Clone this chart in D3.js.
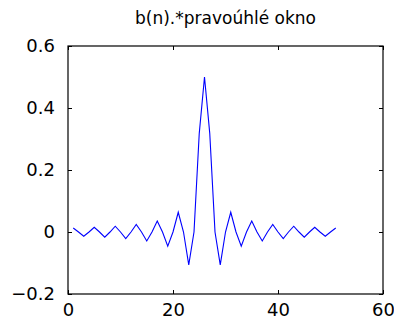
<!DOCTYPE html>
<html>
<head>
<meta charset="utf-8">
<script src="https://cdn.jsdelivr.net/npm/d3@7"></script>
<style>
html,body{margin:0;padding:0;background:#fff;}
svg{display:block;}
text{font-family:"DejaVu Sans",sans-serif;fill:#000;}
</style>
</head>
<body>
<svg id="chart" width="394" height="323"></svg>
<script>
const title = "b(n).*pravoúhlé okno";
const n = d3.range(1, 52);
const values = [
  0.0127, 0, -0.0138, 0, 0.0152, 0, -0.0168, 0, 0.0187, 0,
  -0.0212, 0, 0.0245, 0, -0.0289, 0, 0.0354, 0, -0.0455, 0,
  0.0637, 0, -0.1061, 0, 0.3183, 0.5, 0.3183, 0, -0.1061, 0,
  0.0637, 0, -0.0455, 0, 0.0354, 0, -0.0289, 0, 0.0245, 0,
  -0.0212, 0, 0.0187, 0, -0.0168, 0, 0.0152, 0, -0.0138, 0, 0.0127
];
const xTicks = [0, 20, 40, 60];
const yTicks = [-0.2, 0, 0.2, 0.4, 0.6];
const xDomain = [0, 60];
const yDomain = [-0.2, 0.6];

const W = 394, H = 323;
const m = {left: 68, right: 11, top: 46, bottom: 29};
const svg = d3.select("#chart");
const x = d3.scaleLinear().domain(xDomain).range([m.left, W - m.right]);
const y = d3.scaleLinear().domain(yDomain).range([H - m.bottom, m.top]);

// line
const line = d3.line().x((d, i) => x(n[i])).y(d => y(d));
svg.append("path").datum(values)
  .attr("d", line).attr("fill", "none")
  .attr("stroke", "#0000ff").attr("stroke-width", 1.1);

// axes (inner ticks, mirrored)
const fmt = d => d3.format("")(+d.toFixed(1));
const tl = 4;
svg.append("g").attr("transform", `translate(0,${H - m.bottom})`)
  .call(d3.axisBottom(x).tickValues(xTicks).tickSizeInner(-tl).tickSizeOuter(0).tickPadding(9).tickFormat(fmt))
  .call(g => g.select(".domain").remove());
svg.append("g").attr("transform", `translate(0,${m.top})`)
  .call(d3.axisTop(x).tickValues(xTicks).tickSizeInner(-tl).tickSizeOuter(0).tickFormat(""))
  .call(g => g.select(".domain").remove());
svg.append("g").attr("transform", `translate(${m.left},0)`)
  .call(d3.axisLeft(y).tickValues(yTicks).tickSizeInner(-tl).tickSizeOuter(0).tickPadding(13).tickFormat(fmt))
  .call(g => g.select(".domain").remove());
svg.append("g").attr("transform", `translate(${W - m.right},0)`)
  .call(d3.axisRight(y).tickValues(yTicks).tickSizeInner(-tl).tickSizeOuter(0).tickFormat(""))
  .call(g => g.select(".domain").remove());

svg.selectAll(".tick text").attr("font-size", 18).attr("font-family", "DejaVu Sans").attr("fill", "#000");
svg.selectAll(".tick line").attr("stroke", "#000");

// box
svg.append("rect")
  .attr("x", x(xDomain[0])).attr("y", y(yDomain[1]))
  .attr("width", x(xDomain[1]) - x(xDomain[0]))
  .attr("height", y(yDomain[0]) - y(yDomain[1]))
  .attr("fill", "none").attr("stroke", "#000").attr("stroke-width", 1.2);

// title
svg.append("text").attr("x", (x(xDomain[0]) + x(xDomain[1])) / 2).attr("y", 24)
  .attr("text-anchor", "middle").attr("font-size", 17).text(title);
</script>
</body>
</html>
